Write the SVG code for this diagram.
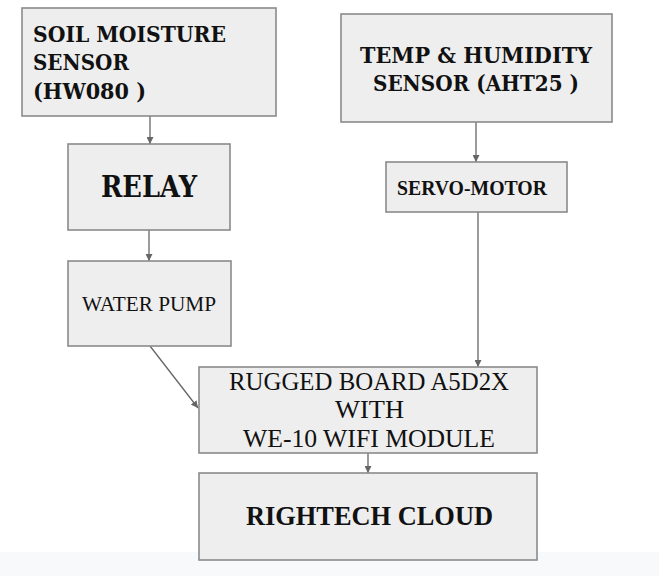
<svg xmlns="http://www.w3.org/2000/svg" width="659" height="576" viewBox="0 0 659 576">
<style>
.box{fill:#eeeeee;stroke:#8a8a8a;stroke-width:1.6}
.b{font-family:"DejaVu Serif","Liberation Serif",serif;font-weight:bold;fill:#111}
.r{font-family:"Liberation Serif","DejaVu Serif",serif;fill:#111}
.c{stroke:#666;stroke-width:1.3;fill:none;marker-end:url(#ah)}
</style>
<defs>
<marker id="ah" viewBox="0 0 10 10" refX="10" refY="5" markerWidth="7" markerHeight="7" markerUnits="userSpaceOnUse" orient="auto">
<path d="M0,0 L10,5 L0,10 z" fill="#666"/>
</marker>
</defs>
<rect x="0" y="0" width="659" height="576" fill="#ffffff"/>
<rect x="0" y="552" width="659" height="24" fill="#f8f9fa"/>
<g id="connectors">
<line class="c" x1="150" y1="116" x2="150" y2="144"/>
<line class="c" x1="149" y1="230" x2="149" y2="261"/>
<line class="c" x1="150" y1="346" x2="198" y2="408"/>
<line class="c" x1="476" y1="122" x2="476" y2="162"/>
<line class="c" x1="478" y1="212" x2="478" y2="367"/>
<line class="c" x1="368" y1="453" x2="368" y2="473"/>
</g>
<g id="soil">
<rect class="box" x="22" y="8" width="254" height="108"/>
<text class="b" font-size="22" x="33" y="42" textLength="193" lengthAdjust="spacingAndGlyphs">SOIL MOISTURE</text>
<text class="b" font-size="22" x="33" y="70" textLength="96" lengthAdjust="spacingAndGlyphs">SENSOR</text>
<text class="b" font-size="22" x="33" y="99" textLength="113" lengthAdjust="spacingAndGlyphs">(HW080 )</text>
</g>
<g id="relay">
<rect class="box" x="68" y="144" width="162" height="86"/>
<text class="b" font-size="29" x="101" y="197" textLength="96" lengthAdjust="spacingAndGlyphs">RELAY</text>
</g>
<g id="pump">
<rect class="box" x="68" y="261" width="163" height="85"/>
<text class="r" font-size="20" x="82" y="311" textLength="134" lengthAdjust="spacingAndGlyphs">WATER PUMP</text>
</g>
<g id="temp">
<rect class="box" x="341" y="14" width="271" height="108"/>
<text class="b" font-size="23" x="360" y="63" textLength="232" lengthAdjust="spacingAndGlyphs">TEMP &amp; HUMIDITY</text>
<text class="b" font-size="23" x="373" y="91" textLength="206" lengthAdjust="spacingAndGlyphs">SENSOR (AHT25 )</text>
</g>
<g id="servo">
<rect class="box" x="386" y="162" width="181" height="50"/>
<text class="r" font-size="20" font-weight="bold" x="397" y="195" textLength="150" lengthAdjust="spacingAndGlyphs">SERVO-MOTOR</text>
</g>
<g id="rugged">
<rect class="box" x="199" y="367" width="338" height="86"/>
<text class="r" font-size="26" x="229" y="390" textLength="280" lengthAdjust="spacingAndGlyphs">RUGGED BOARD A5D2X</text>
<text class="r" font-size="26" x="335" y="418" textLength="69" lengthAdjust="spacingAndGlyphs">WITH</text>
<text class="r" font-size="26" x="243" y="447" textLength="252" lengthAdjust="spacingAndGlyphs">WE-10 WIFI MODULE</text>
</g>
<g id="cloud">
<rect class="box" x="199" y="473" width="338" height="87"/>
<text class="r" font-size="27" font-weight="bold" x="246" y="525" textLength="247" lengthAdjust="spacingAndGlyphs">RIGHTECH CLOUD</text>
</g>
</svg>
